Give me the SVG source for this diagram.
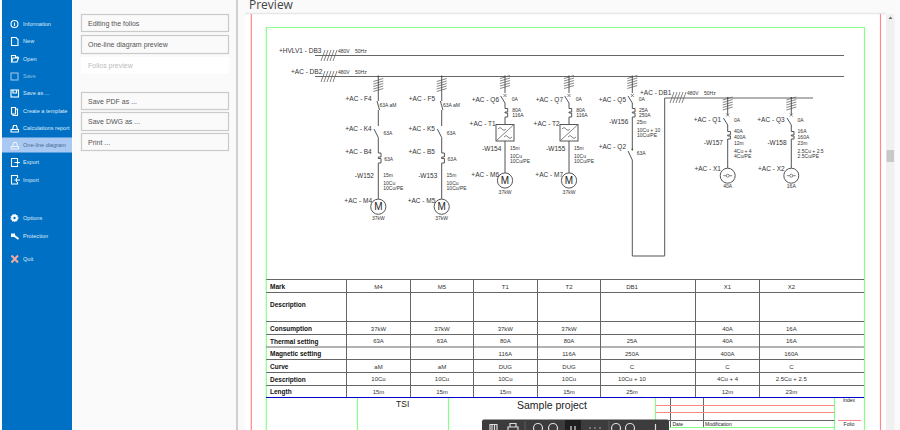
<svg xmlns="http://www.w3.org/2000/svg" width="900" height="430" viewBox="0 0 900 430">
<style>
text{font-family:"Liberation Sans",Arial,sans-serif;fill:#222}
.m{fill:#dcebf8;font-size:5.6px}
.ic{fill:none;stroke:#fff;stroke-width:1.1}
.b{fill:#fafafa;stroke:#cacaca;stroke-width:1.2}
.bt{font-size:7px;fill:#555}
.l{font-size:6.5px;text-anchor:end;fill:#333}
.ls{font-size:6.5px;fill:#333}
.s{font-size:5px;fill:#333}
.c{font-size:5px;text-anchor:middle;fill:#333}
.w{stroke:#555;stroke-width:1;fill:none}
.t{stroke:#666;stroke-width:.8;fill:none}
.g{stroke:#8f8;stroke-width:1.2;fill:none}
.r{stroke:#f88;stroke-width:1.2;fill:none}
.k{stroke:#666;stroke-width:1;fill:none}
.rh{font-size:6.5px;font-weight:bold;fill:#111}
.v{font-size:6px;text-anchor:middle;fill:#333}
</style>
<defs>
<g id="ticks"><path class="t" d="M-5 5L5 2M-5 7.500L5 4.500M-5 10L5 7M-5 12.500L5 9.500M-5 15L5 12"/></g>
<g id="bustick"><path class="t" d="M0 11L4 0M3 11L7 0M6 11L10 0M9 11L13 0M12 11L16 0"/></g>
<g id="motor"><circle r="7.600" fill="#fff" stroke="#555" stroke-width="1"/><text y="3.500" font-size="10" text-anchor="middle" fill="#333">M</text></g>
<g id="sock"><circle r="7.500" fill="#fff" stroke="#555" stroke-width="1"/><circle r="1.500" fill="none" stroke="#555" stroke-width=".7"/><path class="t" d="M-4.500 0H-1.500M1.500 0H4.500"/></g>
</defs>

<rect width="900" height="430" fill="#fff"/>
<rect x="238" width="662" height="13" fill="#fafafa"/>
<rect x="238" y="13" width="7" height="417" fill="#fafafa"/>
<rect x="886" y="13" width="14" height="417" fill="#fafafa"/>
<path d="M245 13.500H886" stroke="#e8e8e8" stroke-width="1.500"/>
<rect x="73" width="163" height="430" fill="#fafafa"/>
<rect x="236" width="2" height="430" fill="#cfcfcf"/>
<rect x="2" width="70" height="430" fill="#0070c4"/>
<rect x="886" y="14" width="8.500" height="416" fill="#f0f0f0"/>
<rect x="886.500" y="150" width="7.500" height="12" fill="#c8c8c8"/>
<path d="M888.500 19L890.500 16.500L892.500 19Z" fill="#666"/>

<g id="sidebar">
<rect x="2" y="137.500" width="70" height="15" fill="#a9c9f2"/>
<text class="m" x="23" y="26">Information</text>
<text class="m" x="23" y="43">New</text>
<text class="m" x="23" y="60.500">Open</text>
<text class="m" x="23" y="78" opacity=".6">Save</text>
<text class="m" x="23" y="95">Save as ...</text>
<text class="m" x="23" y="112.500">Create a template</text>
<text class="m" x="23" y="129.500">Calculations report</text>
<text class="m" x="23" y="147" style="fill:#4a6a90">One-line diagram</text>
<text class="m" x="23" y="164">Export</text>
<text class="m" x="23" y="181.500">Import</text>
<text class="m" x="23" y="220">Options</text>
<text class="m" x="23" y="237.500">Protection</text>
<text class="m" x="23" y="260.500">Quit</text>
<circle class="ic" cx="14.500" cy="24" r="3.500"/><path class="ic" d="M14.500 22.500V26"/>
<path class="ic" d="M11.500 37.500H16L18 39.500V45.500H11.500Z"/>
<path class="ic" d="M11.500 62V55.500H15.500V57H18V58M11.500 62L13 58H18.500L17 62Z"/>
<rect class="ic" x="11" y="73" width="7" height="7" opacity=".6"/>
<rect class="ic" x="11" y="90" width="7.500" height="7"/><path class="ic" d="M13 90V93H16.500V90"/>
<path class="ic" d="M11.500 107.500H15.500V114H11.500ZM15.500 109H17.500V115.500H13V114"/>
<path class="ic" d="M11 129.500H18.500V132H11ZM12.500 129.500L13.500 125.500H16.500L17.500 129.500"/>
<path d="M11 146.500H18.500V149H11ZM12.500 146.500L13.500 142.500H16.500L17.500 146.500" fill="none" stroke="#fff" stroke-width="1" opacity=".8"/>
<path class="ic" d="M17.500 161V158.500H11.500V166.500H17.500V165M14.500 162.500H20M17.500 160.500V164.500"/>
<path class="ic" d="M17.500 178V175.500H11.500V184H17.500V182M20 180H14.500M16.500 178V182"/>
<circle cx="14.500" cy="218" r="2.300" fill="none" stroke="#fff" stroke-width="2.200"/><circle cx="14.500" cy="218" r="3.600" fill="none" stroke="#fff" stroke-width="1" stroke-dasharray="1.200 1.200"/>
<path d="M11 233.500H15V237H11Z" fill="#fff"/><path d="M14.500 236L18.500 239" stroke="#fff" stroke-width="2"/>
<path d="M11.500 255.500L18 262.500M18 255.500L11.500 262.500" stroke="#f5a8a0" stroke-width="2"/>
</g>

<g id="panel">
<rect class="b" x="81.500" y="14.500" width="147" height="17"/><text class="bt" x="88" y="25.500">Editing the folios</text>
<rect class="b" x="81.500" y="35.500" width="147" height="18"/><text class="bt" x="88" y="47">One-line diagram preview</text>
<rect x="81" y="57" width="148" height="16.500" fill="#fff"/><text class="bt" x="88" y="67.500" style="fill:#bbb">Folios preview</text>
<rect class="b" x="81.500" y="92.500" width="147" height="17"/><text class="bt" x="88" y="104">Save PDF as ...</text>
<rect class="b" x="81.500" y="112.500" width="147" height="18"/><text class="bt" x="88" y="124">Save DWG as ...</text>
<rect class="b" x="81.500" y="133.500" width="147" height="17"/><text class="bt" x="88" y="145">Print ...</text>
</g>
<text x="249" y="9" font-size="12" style="fill:#444;font-family:'Open Sans','Liberation Sans',sans-serif">Preview</text>

<g id="frame">
<path class="g" d="M266.300 430V27.500H864.500V430"/>
<path class="r" d="M880.500 14V430M251.300 14V430"/>
</g>

<g id="connectors">
<path class="k" d="M315 55.500H844M315 76.500H844"/>
<path class="k" d="M664.700 98H813"/>
<path class="w" d="M632.300 160V256H664.700V98"/>
<circle cx="378.300" cy="76.500" r=".9" fill="#444"/><circle cx="441.700" cy="76.500" r=".9" fill="#444"/><circle cx="505" cy="76.500" r=".9" fill="#444"/><circle cx="569" cy="76.500" r=".9" fill="#444"/><circle cx="632.300" cy="76.500" r=".9" fill="#444"/>
<circle cx="727.700" cy="98" r=".9" fill="#444"/><circle cx="791.300" cy="98" r=".9" fill="#444"/>
</g>

<g id="bus-DB3"><text class="ls" x="279" y="53">+HVLV1 - DB3</text><use href="#bustick" x="321" y="50"/><text class="s" x="338" y="53">480V</text><text class="s" x="355" y="53">50Hz</text></g>
<g id="bus-DB2"><text class="ls" x="291" y="74">+AC - DB2</text><use href="#bustick" x="321" y="71"/><text class="s" x="338" y="74">480V</text><text class="s" x="355" y="74">50Hz</text></g>
<g id="bus-DB1"><text class="ls" x="640" y="95">+AC - DB1</text><use href="#bustick" x="670" y="92"/><text class="s" x="687" y="95">480V</text><text class="s" x="704" y="95">50Hz</text></g>

<g id="feeder-M4">
<use href="#ticks" x="378.300" y="76.500"/>
<path class="w" d="M378.300 76.500V101M378.300 110V126M374 129L378.300 137.500V153H381V157H378.300V158.500H381V163H378.300V199"/>
<path class="w" d="M377 101L379.500 110"/>
<use href="#motor" x="378.300" y="206.700"/>
<text class="l" x="371.700" y="101.300">+AC - F4</text><text class="s" x="379.500" y="107">63A aM</text>
<text class="l" x="371.700" y="130.700">+AC - K4</text><text class="s" x="383.500" y="134.700">63A</text>
<text class="l" x="371.700" y="154.300">+AC - B4</text><text class="s" x="384.300" y="160.700">63A</text>
<text class="l" x="374" y="177.700">-W152</text><text class="s" x="383.300" y="177.300">15m</text>
<text class="s" x="383.300" y="185.300">10Cu</text><text class="s" x="383.300" y="190">10Cu/PE</text>
<text class="l" x="372" y="203">+AC - M4</text><text class="c" x="378.300" y="219.500">37kW</text>
</g>
<g id="feeder-M5">
<use href="#ticks" x="441.700" y="76.500"/>
<path class="w" d="M441.700 76.500V101M441.700 110V126M437.400 129L441.700 137.500V153H444.400V157H441.700V158.500H444.400V163H441.700V199"/>
<path class="w" d="M440.400 101L442.900 110"/>
<use href="#motor" x="441.700" y="206.700"/>
<text class="l" x="435" y="101.300">+AC - F5</text><text class="s" x="442.900" y="107">63A aM</text>
<text class="l" x="435" y="130.700">+AC - K5</text><text class="s" x="446.800" y="134.700">63A</text>
<text class="l" x="435" y="154.300">+AC - B5</text><text class="s" x="447.600" y="160.700">63A</text>
<text class="l" x="437.300" y="177.700">-W153</text><text class="s" x="446.600" y="177.300">15m</text>
<text class="s" x="446.600" y="185.300">10Cu</text><text class="s" x="446.600" y="190">10Cu/PE</text>
<text class="l" x="435.300" y="203">+AC - M5</text><text class="c" x="441.700" y="219.500">37kW</text>
</g>
<g id="feeder-T1">
<use href="#ticks" x="505" y="73.500"/>
<path class="w" d="M505 76.500V93M500.700 96L505 103V108.500H507.700V112H505V113H507.700V117H505V124.500M505 141V173"/>
<path class="t" d="M503.500 94L506.500 97M506.500 94L503.500 97"/>
<rect x="496" y="124.500" width="18" height="16.500" fill="#fff" stroke="#555"/><path class="t" d="M496 141L514 124.500M498 129Q500 126 502 129T506 129M504 137Q506 134 508 137T512 137"/>
<use href="#motor" x="505" y="180.500"/>
<text class="l" x="499" y="101.700">+AC - Q6</text><text class="s" x="511.700" y="101">0A</text>
<text class="s" x="512.300" y="111.700">80A</text><text class="s" x="512.300" y="117">116A</text>
<text class="l" x="495.700" y="126.300">+AC - T1</text>
<text class="l" x="501.300" y="150.700">-W154</text><text class="s" x="510" y="150">15m</text>
<text class="s" x="510" y="158.300">10Cu</text><text class="s" x="510" y="163.300">10Cu/PE</text>
<text class="l" x="499" y="176.700">+AC - M6</text><text class="c" x="505" y="193.500">37kW</text>
</g>
<g id="feeder-T2">
<use href="#ticks" x="569" y="73.500"/>
<path class="w" d="M569 76.500V93M564.700 96L569 103V108.500H571.700V112H569V113H571.700V117H569V124.500M569 141V173"/>
<path class="t" d="M567.500 94L570.500 97M570.500 94L567.500 97"/>
<rect x="560" y="124.500" width="18" height="16.500" fill="#fff" stroke="#555"/><path class="t" d="M560 141L578 124.500M562 129Q564 126 566 129T570 129M568 137Q570 134 572 137T576 137"/>
<use href="#motor" x="569" y="180.500"/>
<text class="l" x="563" y="101.700">+AC - Q7</text><text class="s" x="575.700" y="101">0A</text>
<text class="s" x="576.300" y="111.700">80A</text><text class="s" x="576.300" y="117">116A</text>
<text class="l" x="559.700" y="126.300">+AC - T2</text>
<text class="l" x="565.300" y="150.700">-W155</text><text class="s" x="574" y="150">15m</text>
<text class="s" x="574" y="158.300">10Cu</text><text class="s" x="574" y="163.300">10Cu/PE</text>
<text class="l" x="563" y="176.700">+AC - M7</text><text class="c" x="569" y="193.500">37kW</text>
</g>
<g id="feeder-DB1">
<use href="#ticks" x="632.300" y="73.500"/>
<path class="w" d="M632.300 76.500V93M628 96L632.300 103V108.500H635V112H632.300V113H635V117H632.300V149M628 151L632.300 160"/>
<path class="t" d="M630.800 94L633.800 97M633.800 94L630.800 97"/>
<circle cx="632.300" cy="149.500" r=".9" fill="#444"/>
<text class="l" x="626" y="101.700">+AC - Q5</text><text class="s" x="638.700" y="101">0A</text>
<text class="s" x="639" y="111.700">25A</text><text class="s" x="639" y="117">250A</text>
<text class="l" x="628.300" y="124.300">-W156</text><text class="s" x="636.700" y="123.700">25m</text>
<text class="s" x="637" y="132">10Cu + 10</text><text class="s" x="637" y="137.300">10Cu/PE</text>
<text class="l" x="626" y="149">+AC - Q2</text><text class="s" x="636.700" y="155.300">63A</text>
</g>
<g id="feeder-X1">
<use href="#ticks" x="727.700" y="95"/>
<path class="w" d="M727.700 98V115M723.400 118L727.700 125V131.500H730.400V135H727.700V136H730.400V139H727.700V168"/>
<path class="t" d="M726.200 113.500L729.200 116.500M729.200 113.500L726.200 116.500"/>
<use href="#sock" x="727.700" y="175.700"/>
<text class="l" x="721" y="122.300">+AC - Q1</text><text class="s" x="734" y="122">0A</text>
<text class="s" x="734" y="133.300">40A</text><text class="s" x="734" y="138.700">400A</text>
<text class="l" x="723" y="145.300">-W157</text><text class="s" x="734" y="145">12m</text>
<text class="s" x="734" y="153">4Cu + 4</text><text class="s" x="734" y="158.300">4Cu/PE</text>
<text class="l" x="721" y="171.300">+AC - X1</text><text class="c" x="727.700" y="188">40A</text>
</g>
<g id="feeder-X2">
<use href="#ticks" x="791.300" y="95"/>
<path class="w" d="M791.300 98V115M787 118L791.300 125V131.500H794V135H791.300V136H794V139H791.300V168"/>
<path class="t" d="M789.800 113.500L792.800 116.500M792.800 113.500L789.800 116.500"/>
<use href="#sock" x="791.300" y="175.700"/>
<text class="l" x="784.600" y="122.300">+AC - Q3</text><text class="s" x="797.600" y="122">0A</text>
<text class="s" x="797.600" y="133.300">16A</text><text class="s" x="797.600" y="138.700">160A</text>
<text class="l" x="786.600" y="145.300">-W158</text><text class="s" x="797.600" y="145">23m</text>
<text class="s" x="797.600" y="153">2.5Cu + 2.5</text><text class="s" x="797.600" y="158.300">2.5Cu/PE</text>
<text class="l" x="784.600" y="171.300">+AC - X2</text><text class="c" x="791.300" y="188">16A</text>
</g>

<g id="table">
<path class="k" d="M266.300 279.500H864M266.300 292.500H864M266.300 321.500H864M266.300 334.500H864M266.300 347H864M266.300 359.500H864M266.300 372.500H864M266.300 385.500H864"/>
<path class="k" d="M346.500 279.500V397M410.500 279.500V397M473.500 279.500V397M537.500 279.500V397M600.500 279.500V397M695.500 279.500V397M759.500 279.500V397"/>
<path d="M266 397.500H864" stroke="#00c" stroke-width="1.200"/>
<text class="rh" x="270" y="289">Mark</text><text class="rh" x="270" y="307">Description</text><text class="rh" x="270" y="331">Consumption</text><text class="rh" x="270" y="343.500">Thermal setting</text><text class="rh" x="270" y="356">Magnetic setting</text><text class="rh" x="270" y="369">Curve</text><text class="rh" x="270" y="381.500">Description</text><text class="rh" x="270" y="394">Length</text>
<text class="v" x="378.500" y="288.500">M4</text><text class="v" x="442" y="288.500">M5</text><text class="v" x="505.300" y="288.500">T1</text><text class="v" x="569" y="288.500">T2</text><text class="v" x="632" y="288.500">DB1</text><text class="v" x="727.500" y="288.500">X1</text><text class="v" x="791.300" y="288.500">X2</text>
<text class="v" x="378.500" y="330.500">37kW</text><text class="v" x="442" y="330.500">37kW</text><text class="v" x="505.300" y="330.500">37kW</text><text class="v" x="569" y="330.500">37kW</text><text class="v" x="727.500" y="330.500">40A</text><text class="v" x="791.300" y="330.500">16A</text>
<text class="v" x="378.500" y="343.200">63A</text><text class="v" x="442" y="343.200">63A</text><text class="v" x="505.300" y="343.200">80A</text><text class="v" x="569" y="343.200">80A</text><text class="v" x="632" y="343.200">25A</text><text class="v" x="727.500" y="343.200">40A</text><text class="v" x="791.300" y="343.200">16A</text>
<text class="v" x="505.300" y="355.800">116A</text><text class="v" x="569" y="355.800">116A</text><text class="v" x="632" y="355.800">250A</text><text class="v" x="727.500" y="355.800">400A</text><text class="v" x="791.300" y="355.800">160A</text>
<text class="v" x="378.500" y="368.500">aM</text><text class="v" x="442" y="368.500">aM</text><text class="v" x="505.300" y="368.500">DUG</text><text class="v" x="569" y="368.500">DUG</text><text class="v" x="632" y="368.500">C</text><text class="v" x="727.500" y="368.500">C</text><text class="v" x="791.300" y="368.500">C</text>
<text class="v" x="378.500" y="381">10Cu</text><text class="v" x="442" y="381">10Cu</text><text class="v" x="505.300" y="381">10Cu</text><text class="v" x="569" y="381">10Cu</text><text class="v" x="632" y="381">10Cu + 10</text><text class="v" x="727.500" y="381">4Cu + 4</text><text class="v" x="791.300" y="381">2.5Cu + 2.5</text>
<text class="v" x="378.500" y="394">15m</text><text class="v" x="442" y="394">15m</text><text class="v" x="505.300" y="394">15m</text><text class="v" x="569" y="394">15m</text><text class="v" x="632" y="394">25m</text><text class="v" x="727.500" y="394">12m</text><text class="v" x="791.300" y="394">23m</text>
</g>

<g id="title-block">
<path class="g" d="M357.500 398V430M448.500 398V430M655.500 398V430M834.500 398V430M655.500 427.500H834.500"/>
<path class="k" d="M670.500 398V427M703.500 398V427M655.500 420.500H834.500"/>
<path class="r" d="M655.500 405.500H834.500M655.500 412.500H834.500M838 420.500H861"/>
<text x="402.700" y="406.700" font-size="8.500" text-anchor="middle">TSI</text>
<text x="552" y="409" font-size="10.500" text-anchor="middle">Sample project</text>
<text x="849" y="402" font-size="5" text-anchor="middle">Index</text>
<text x="849" y="426" font-size="5" text-anchor="middle">Folio</text>
<text x="672.500" y="426" font-size="5">Date</text>
<text x="705" y="426" font-size="5">Modification</text>
</g>

<g id="toolbar">
<rect x="482" y="419.500" width="187" height="14" rx="2" fill="#3c3c3c"/>
<rect x="565" y="420" width="16" height="10" fill="#1f1f1f"/>
<path d="M490 430V424.500H497V430M492 424.500V430M494.500 424.500V430" fill="none" stroke="#ddd" stroke-width="1.200"/>
<path d="M508 430V427H518V430M510 427V423.500H516V427" fill="none" stroke="#ddd" stroke-width="1.200"/>
<path d="M525 421V430M609 421V430" stroke="#666" stroke-width=".8"/>
<circle cx="538" cy="428" r="4.500" fill="none" stroke="#ddd" stroke-width="1.200"/><circle cx="553" cy="428" r="4.500" fill="none" stroke="#ddd" stroke-width="1.200"/>
<circle cx="616" cy="428" r="4.500" fill="none" stroke="#ddd" stroke-width="1.200"/><circle cx="630" cy="428" r="4.500" fill="none" stroke="#ddd" stroke-width="1.200"/>
<path d="M571 426V430M575 426V430" stroke="#ddd" stroke-width="1.200"/>
<path d="M589 428H591M594 428H596M599 428H601" stroke="#aaa" stroke-width="1"/>
<path d="M655.500 424V430" stroke="#ddd" stroke-width="1.200"/>
</g>
</svg>
